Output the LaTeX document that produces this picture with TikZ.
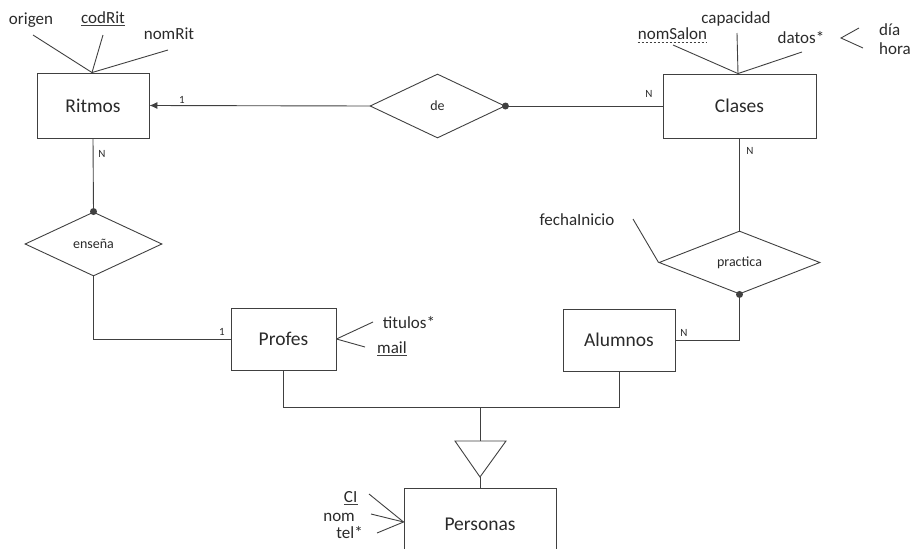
\documentclass[tikz,border=0pt]{standalone}
\usepackage{fontspec}
\setmainfont{Carlito}
\usetikzlibrary{shapes.geometric,arrows.meta}
\definecolor{lc}{HTML}{404040}
\definecolor{tc}{HTML}{2A2A2A}
\begin{document}
\begin{tikzpicture}[x=1pt,y=-1pt,
 line/.style={draw=lc,line width=0.9pt},
 ent/.style={draw=lc,line width=0.9pt,rectangle,inner sep=0pt,font=\fontsize{19.5}{20}\selectfont,text=tc},
 rel/.style={draw=lc,line width=0.9pt,diamond,inner sep=0pt,font=\fontsize{14}{15}\selectfont,text=tc},
 attr/.style={inner sep=0pt,font=\fontsize{17}{18}\selectfont,text=tc,anchor=base},
 card/.style={inner sep=0pt,font=\fontsize{11}{12}\selectfont,text=tc,anchor=base},
 dot/.style={circle,fill=lc,inner sep=0pt,minimum size=7pt},
 uline/.style={draw=lc,line width=0.8pt}]
\useasboundingbox (0,0) rectangle (914,549);
\clip (0,0) rectangle (914,549);

% entities
\node[ent,minimum width=112,minimum height=65] (rit) at (93,105.5) {Ritmos};
\node[ent,minimum width=153,minimum height=64] (cla) at (739.5,106) {Clases};
\node[ent,minimum width=105,minimum height=62] (pro) at (283.5,339) {Profes};
\node[ent,minimum width=112,minimum height=62] (alu) at (619,340) {Alumnos};
\node[ent,minimum width=152,minimum height=72] (per) at (480,524) {Personas};

% relationships
\node[rel,minimum width=135,minimum height=64] (de) at (437.5,106) {de};
\node[rel,minimum width=137,minimum height=64] (ens) at (93.5,244) {enseña};
\node[rel,minimum width=161,minimum height=63] (pra) at (739.5,262.5) {practica};

% de
\draw[line,-{Latex[length=8pt,width=7pt]}] (de.west) -- (rit.east);
\draw[line] (de.east) -- (cla.west);
\node[dot] (d1) at (de.east) {};
\node[card] (c1) at (182,103) {1};
\node[card] (c2) at (649,97) {N};

% ensena
\draw[line] (rit.south) -- (ens.north);
\node[dot] (d2) at (ens.north) {};
\draw[line] (ens.south) |- (pro.west);
\node[card] (c3) at (102,157) {N};
\node[card] (c4) at (222,335) {1};

% practica
\draw[line] (cla.south) -- (pra.north);
\draw[line] (pra.south) |- (alu.east);
\node[dot] (d3) at (pra.south) {};
\node[card] (c5) at (750,154) {N};
\node[card] (c6) at (684,336) {N};
\node[attr] (fi) at (577,225) {fechaInicio};
\coordinate (fiL) at (633,219);
\draw[line] (fiL) -- (pra.west);

% ISA
\coordinate (j) at (480,407);
\coordinate (t1) at (455,441);
\coordinate (t2) at (506,441);
\coordinate (tm) at (480,441);
\coordinate (t3) at (480,477);
\draw[line] (pro.south) |- (j);
\draw[line] (alu.south) |- (j);
\draw[line] (j) -- (tm);
\draw[line,line join=miter] (t1) -- (t2) -- (t3) -- cycle;
\draw[line] (t3) -- (per.north);

% Ritmos attributes
\node[attr] (aor) at (31,24) {origen};
\node[attr] (acr) at (103,23) {codRit};
\node[attr] (anr) at (169,39) {nomRit};
\draw[uline] ([yshift=-2.5pt]acr.base west) -- ([yshift=-2.5pt]acr.base east);
\coordinate (rc) at ([xshift=-1pt]rit.north);
\coordinate (aorL) at (33,35);
\coordinate (acrL) at (103,35);
\coordinate (anrL) at (168,50);
\draw[line] (aorL) -- (rc);
\draw[line] (acrL) -- (rc);
\draw[line] (anrL) -- (rc);

% Clases attributes
\node[attr] (ans) at (672.5,39) {nomSalon};
\node[attr] (acap) at (736,23) {capacidad};
\node[attr] (adat) at (801,43) {datos*};
\draw[uline,dashed,dash pattern=on 2.5pt off 1.5pt] ([yshift=-3pt]ans.base west) -- ([yshift=-3pt]ans.base east);
\coordinate (cc) at ([xshift=-1.5pt]cla.north);
\coordinate (ansL) at (673,45);
\coordinate (acapL) at (737,33);
\coordinate (adatL) at (802,52);
\draw[line] (ansL) -- (cc);
\draw[line] (acapL) -- (cc);
\draw[line] (adatL) -- (cc);
\coordinate (b1) at (859,28);
\coordinate (b2) at (841,38);
\coordinate (b3) at (863,48);
\draw[line] (b1) -- (b2) -- (b3);
\node[attr,anchor=base west] (adia) at (879,35) {día};
\node[attr,anchor=base west] (ahora) at (879,54) {hora};

% Profes attributes
\node[attr] (atit) at (409,328) {titulos*};
\node[attr] (amail) at (392,353) {mail};
\draw[uline] ([yshift=-2.5pt]amail.base west) -- ([yshift=-2.5pt]amail.base east);
\coordinate (atitL) at (373,322);
\coordinate (amailL) at (365,347);
\draw[line] (atitL) -- (pro.east);
\draw[line] (amailL) -- (pro.east);

% Personas attributes
\node[attr,anchor=base east] (aci) at (357.5,502) {CI};
\node[attr,anchor=base east] (anom) at (355,521) {nom};
\node[attr,anchor=base east] (atel) at (363,538) {tel*};
\draw[uline] ([yshift=-2.5pt]aci.base west) -- ([yshift=-2.5pt]aci.base east);
\coordinate (pc) at ([yshift=2pt]per.west);
\coordinate (aciL) at (369,494);
\coordinate (anomL) at (371,514);
\coordinate (atelL) at (377,533);
\draw[line] (aciL) -- (pc);
\draw[line] (anomL) -- (pc);
\draw[line] (atelL) -- (pc);
\end{tikzpicture}
\end{document}
